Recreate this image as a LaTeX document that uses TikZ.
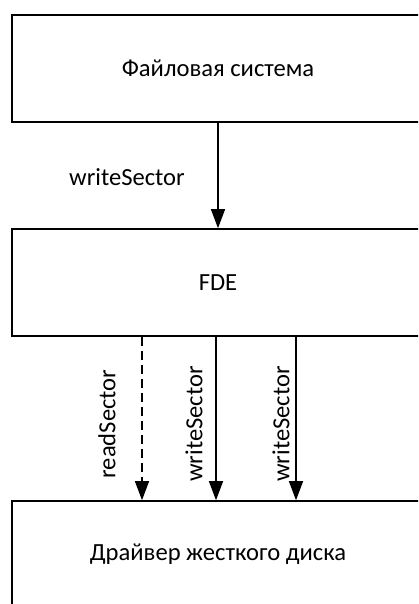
\documentclass[tikz,border=0pt]{standalone}
\usepackage{fontspec}
\setmainfont{Carlito}
\usetikzlibrary{arrows.meta}

\tikzset{
	block/.style={draw, line width=1.6pt, minimum width=412pt, minimum height=107pt, inner sep=0pt},
	call/.style={line width=1.2pt, -{Triangle[width=14pt,length=19pt]}},
	callread/.style={call, dash pattern=on 9pt off 5pt},
}

\begin{document}
\begin{tikzpicture}[x=1pt, y=-1pt, font=\fontsize{24.6}{29}\selectfont]
			%%%%% START %%%%%
			\useasboundingbox (0,0) rectangle (418,604);
			\clip (0,0) rectangle (418,604);
			
			% the three layers
			\node[block] (fs)  at (218, 68.5)  {Файловая система};
			\node[block] (fde) at (218, 282.5) {FDE};
			\node[block] (drv) at (218, 554.5) {Драйвер жесткого диска};
			
			% file system -> FDE
			\draw[call] (fs.south) -- (fde.north);
			\node (wsTop) at (127, 177) {writeSector};
			
			% FDE -> disk driver
			\draw[callread] (fde.south -| 142,0) -- (drv.north -| 142,0);
			\draw[call] (fde.south -| 216,0) -- (drv.north -| 216,0);
			\draw[call] (fde.south -| 296,0) -- (drv.north -| 296,0);
			
			\node[rotate=90] (rsA) at (107, 424) {readSector};
			\node[rotate=90] (wsA) at (194, 424) {writeSector};
			\node[rotate=90] (wsB) at (281, 424) {writeSector};
			%%%%% END %%%%%
\end{tikzpicture}
\end{document}
